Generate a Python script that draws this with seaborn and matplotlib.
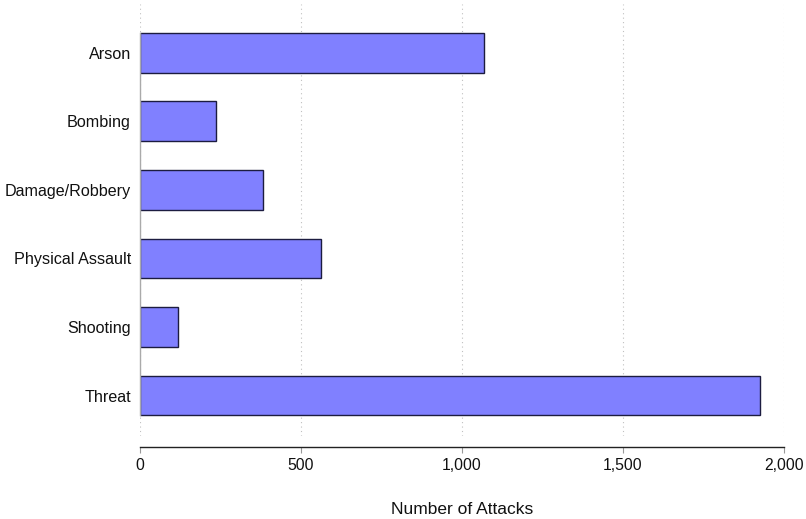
import matplotlib
matplotlib.use("Agg")
import matplotlib.pyplot as plt
import matplotlib.ticker as mticker
import seaborn as sns
import pandas as pd

categories = ["Arson", "Bombing", "Damage/Robbery", "Physical Assault", "Shooting", "Threat"]
attacks = [1067, 235, 381, 563, 117, 1926]
x_ticks = [0, 500, 1000, 1500, 2000]

df = pd.DataFrame({"type": categories, "attacks": attacks})

sns.set_theme(style="white")
plt.rcParams["font.family"] = ["Liberation Sans", "DejaVu Sans"]

fig = plt.figure(figsize=(8.06, 5.19), dpi=100)
ax = fig.add_axes([140 / 806, 1 - 436 / 519, (784 - 140) / 806, (436 - 4) / 519])

sns.barplot(data=df, x="attacks", y="type", order=categories, orient="h",
            color="#8080FF", saturation=1, width=0.58,
            edgecolor="#1c1c40", linewidth=1.0, ax=ax, zorder=3)

ax.set_xlim(0, 2000)
ax.set_ylim(5.59, -0.71)
ax.set_xticks(x_ticks)
ax.xaxis.set_major_formatter(mticker.FuncFormatter(lambda v, p: f"{int(v):,}"))
ax.grid(axis="x", linestyle=(0, (1, 3)), color="#c0c0c0", linewidth=0.8, zorder=0)
ax.grid(axis="y", visible=False)

for s in ["top", "right"]:
    ax.spines[s].set_visible(False)
ax.spines["bottom"].set_position(("outward", 8))
ax.spines["bottom"].set_color("#222222")
ax.spines["bottom"].set_linewidth(1.0)
ax.spines["left"].set_color("#aaaaaa")
ax.spines["left"].set_linewidth(1.0)
ax.spines["left"].set_bounds(-0.29, 5.29)
ax.spines["left"].set_zorder(4)

ax.tick_params(axis="x", bottom=True, length=4, width=0.8, color="#999999",
               labelsize=11.3, pad=4, labelcolor="#111111")
ax.tick_params(axis="y", left=False, length=0, pad=6.5, labelsize=11.6, labelcolor="#111111")

ax.set_ylabel("")
ax.set_xlabel("Number of Attacks", fontsize=12.5, labelpad=21, color="#111111")

fig.savefig("out.png", dpi=100)
